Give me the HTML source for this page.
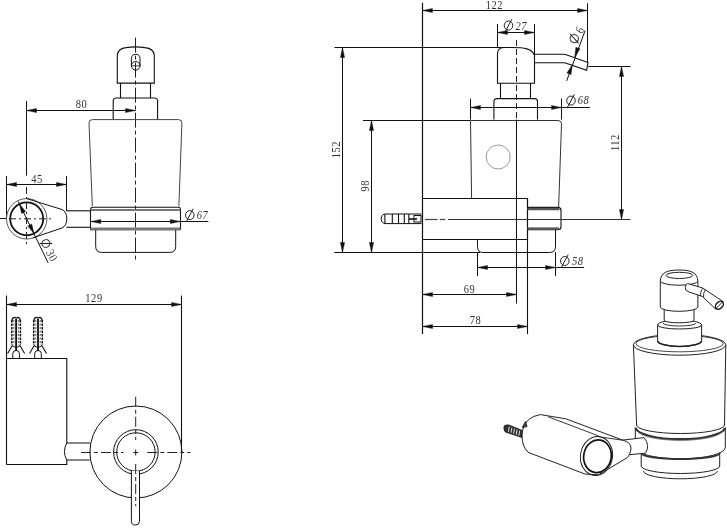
<!DOCTYPE html>
<html><head><meta charset="utf-8"><style>
html,body{margin:0;padding:0;background:#fff;}
body{width:727px;height:528px;overflow:hidden;}
svg{display:block;font-family:"Liberation Serif",serif;will-change:transform;}
</style></head><body>
<svg width="727" height="528" viewBox="0 0 727 528">
<rect width="727" height="528" fill="#fff"/>
<line x1="135.5" y1="37.6" x2="135.5" y2="262.5" stroke="#222" stroke-width="1" stroke-dasharray="15 3 4 3"/>
<path d="M117.3,83.1 V55 Q118,48.5 126,47.6 Q135.4,46.2 145,47.6 Q153.6,48.5 154.3,55 V83.1 Z" stroke="#111" stroke-width="1.1" fill="none" />
<path d="M131.4,65.8 V58.6 Q131.4,54.3 135.7,54.3 Q140,54.3 140,58.6 V65.8" stroke="#111" stroke-width="1" fill="none" />
<circle cx="135.7" cy="65.8" r="4.3" stroke="#111" stroke-width="1" fill="none" />
<line x1="131.4" y1="65.8" x2="140" y2="65.8" stroke="#111" stroke-width="0.8" />
<path d="M120.5,83.1 V98 M150.5,83.1 V98" stroke="#111" stroke-width="1.1" fill="none" />
<path d="M113.2,119.6 V101 Q113.2,98 116.5,98 H154.3 Q157.6,98 157.6,101 V119.6" stroke="#111" stroke-width="1.1" fill="none" />
<path d="M92.3,206 L89,123 Q89,119.6 92.5,119.6 H178.5 Q181.9,119.6 181.9,123 L178.9,206" stroke="#444" stroke-width="1" fill="none" />
<path d="M90.5,230 V210 Q90.5,207.3 93,207.3 H178.5 Q180.5,207.3 180.5,210 V230" stroke="#111" stroke-width="1.1" fill="none" />
<line x1="90.5" y1="210" x2="180.5" y2="210" stroke="#777" stroke-width="2" />
<line x1="90.5" y1="229" x2="180.5" y2="229" stroke="#777" stroke-width="3" />
<path d="M95.7,230 V246.5 Q95.7,252.4 101.6,252.4 H169.8 Q175.7,252.4 175.7,246.5 V230" stroke="#111" stroke-width="1" fill="none" />
<line x1="26.5" y1="101" x2="26.5" y2="175.5" stroke="#111" stroke-width="1" />
<line x1="26.5" y1="110.5" x2="135.5" y2="110.5" stroke="#111" stroke-width="1" />
<polygon points="26.50,110.50 36.50,108.40 36.50,112.60" fill="#111" stroke="#111" stroke-width="0.4" stroke-linejoin="round"/>
<polygon points="135.50,110.50 125.50,112.60 125.50,108.40" fill="#111" stroke="#111" stroke-width="0.4" stroke-linejoin="round"/>
<text transform="translate(81.5,103.4) rotate(0) scale(0.86,1)" x="0" y="4.12" text-anchor="middle" font-size="12.2" fill="#333" letter-spacing="0.6">80</text>
<path d="M6.5,176 V218.5 H0" stroke="#111" stroke-width="1" fill="none" />
<line x1="66.5" y1="176" x2="66.5" y2="211" stroke="#111" stroke-width="1" />
<line x1="6.5" y1="184.5" x2="66.5" y2="184.5" stroke="#111" stroke-width="1" />
<polygon points="6.50,184.50 16.50,182.40 16.50,186.60" fill="#111" stroke="#111" stroke-width="0.4" stroke-linejoin="round"/>
<polygon points="66.50,184.50 56.50,186.60 56.50,182.40" fill="#111" stroke="#111" stroke-width="0.4" stroke-linejoin="round"/>
<text transform="translate(37,178.5) rotate(0) scale(0.86,1)" x="0" y="4.12" text-anchor="middle" font-size="12.2" fill="#333" letter-spacing="0.6">45</text>
<line x1="90.5" y1="221.5" x2="208.3" y2="221.5" stroke="#111" stroke-width="1" />
<polygon points="90.80,221.50 100.80,219.40 100.80,223.60" fill="#111" stroke="#111" stroke-width="0.4" stroke-linejoin="round"/>
<polygon points="180.30,221.50 170.30,223.60 170.30,219.40" fill="#111" stroke="#111" stroke-width="0.4" stroke-linejoin="round"/>
<g transform="translate(189.8,215.1) rotate(0)"><ellipse cx="0" cy="0" rx="4.2749999999999995" ry="4.5" stroke="#222" stroke-width="1" fill="none"/><line x1="-3.38" y1="6.36" x2="3.38" y2="-6.36" stroke="#222" stroke-width="1"/></g>
<text transform="translate(202.5,215.3) rotate(0) scale(0.86,1)" x="0" y="4.12" text-anchor="middle" font-size="12.2" fill="#333" letter-spacing="0.6" font-style="italic">67</text>
<circle cx="26.7" cy="218.8" r="20.2" stroke="#555" stroke-width="1" fill="none" />
<circle cx="26.7" cy="218.8" r="16.5" stroke="#111" stroke-width="1.8" fill="none" />
<path d="M26.7,198.6 L62,209.5 Q67,212 66.8,219 Q66.5,226 62,228 L33,237.8" stroke="#111" stroke-width="1" fill="none" />
<line x1="66.5" y1="210.8" x2="90.5" y2="210.8" stroke="#111" stroke-width="1.1" />
<line x1="66.5" y1="227.3" x2="90.5" y2="227.3" stroke="#111" stroke-width="1.1" />
<line x1="9" y1="218.8" x2="54" y2="218.8" stroke="#222" stroke-width="1" stroke-dasharray="7 3 2 3"/>
<line x1="26.5" y1="187" x2="26.5" y2="245.3" stroke="#222" stroke-width="1" stroke-dasharray="7 3 2 3"/>
<line x1="18.2" y1="201.4" x2="48.2" y2="263" stroke="#111" stroke-width="1" />
<polygon points="19.40,204.00 25.63,211.52 21.59,213.51" fill="#111" stroke="#111" stroke-width="0.4" stroke-linejoin="round"/>
<polygon points="34.00,233.60 27.77,226.08 31.81,224.09" fill="#111" stroke="#111" stroke-width="0.4" stroke-linejoin="round"/>
<g transform="translate(45.9,243.5) rotate(62)"><ellipse cx="0" cy="0" rx="3.8" ry="4" stroke="#222" stroke-width="1" fill="none"/><line x1="-2.96" y1="5.56" x2="2.96" y2="-5.56" stroke="#222" stroke-width="1"/></g>
<text transform="translate(51.8,255.5) rotate(63) scale(0.86,1)" x="0" y="4.12" text-anchor="middle" font-size="12.2" fill="#333" letter-spacing="0.6">30</text>
<line x1="6.5" y1="295.5" x2="6.5" y2="464.5" stroke="#111" stroke-width="1.1" />
<line x1="181.5" y1="295.5" x2="181.5" y2="452" stroke="#111" stroke-width="1.1" />
<line x1="6.5" y1="304.5" x2="181.5" y2="304.5" stroke="#111" stroke-width="1" />
<polygon points="6.50,304.50 16.50,302.40 16.50,306.60" fill="#111" stroke="#111" stroke-width="0.4" stroke-linejoin="round"/>
<polygon points="181.50,304.50 171.50,306.60 171.50,302.40" fill="#111" stroke="#111" stroke-width="0.4" stroke-linejoin="round"/>
<text transform="translate(94,297.6) rotate(0) scale(0.86,1)" x="0" y="4.12" text-anchor="middle" font-size="12.2" fill="#333" letter-spacing="0.6">129</text>
<path d="M6.5,358.5 H66.8 V443 M66.8,460 V464.5 H6.5" stroke="#111" stroke-width="1.1" fill="none" />
<path d="M66.8,443 H90 M66.8,460 H89.7 M66.8,443 Q62,451.5 66.8,460" stroke="#111" stroke-width="1" fill="none" />
<circle cx="135.9" cy="452" r="46" stroke="#111" stroke-width="1" fill="none" />
<circle cx="135.9" cy="452" r="22.3" stroke="#111" stroke-width="1" fill="none" />
<circle cx="135.9" cy="452" r="19.2" stroke="#111" stroke-width="1" fill="none" />
<path d="M131.4,471 V521.5 Q131.4,525 135.5,525 Q139.5,525 139.5,521.5 V471" stroke="#111" stroke-width="1" fill="#fff" />
<line x1="81" y1="452.5" x2="123.5" y2="452.5" stroke="#222" stroke-width="1" stroke-dasharray="10 3 4 3"/>
<line x1="133.3" y1="452.5" x2="138.3" y2="452.5" stroke="#222" stroke-width="1" />
<line x1="147.3" y1="452.5" x2="190.5" y2="452.5" stroke="#222" stroke-width="1" stroke-dasharray="10 3 4 3"/>
<line x1="135.7" y1="396.8" x2="135.7" y2="440" stroke="#222" stroke-width="1" stroke-dasharray="10 3 4 3"/>
<line x1="135.7" y1="449.5" x2="135.7" y2="455.5" stroke="#222" stroke-width="1" />
<line x1="135.7" y1="464" x2="135.7" y2="506" stroke="#222" stroke-width="1" stroke-dasharray="10 3 4 3"/>
<path d="M11.8,322 Q11.8,317.3 14.900000000000002,317.3 Q16.1,319 17.3,317.3 Q20.400000000000002,317.3 20.400000000000002,322" stroke="#111" stroke-width="1.3" fill="none" />
<path d="M11.8,320 V345 M20.400000000000002,320 V345" stroke="#111" stroke-width="1.5" fill="none" stroke-dasharray="2.4 1.1"/>
<path d="M13.900000000000002,320 V345 M18.3,320 V345" stroke="#444" stroke-width="0.9" fill="none" stroke-dasharray="2 1.5"/>
<line x1="16.1" y1="319" x2="16.1" y2="351" stroke="#111" stroke-width="1.8" />
<path d="M12.600000000000001,345 L7.600000000000001,353.5 M19.6,345 L24.6,353.5" stroke="#111" stroke-width="1.1" fill="none" />
<path d="M12.8,358.4 V353.5 Q12.8,350.5 16.1,350.5 Q19.400000000000002,350.5 19.400000000000002,353.5 V358.4" stroke="#111" stroke-width="1" fill="none" />
<path d="M12.100000000000001,345.5 Q16.1,349 20.1,345.5" stroke="#111" stroke-width="1" fill="none" />
<path d="M33.7,322 Q33.7,317.3 36.8,317.3 Q38,319 39.2,317.3 Q42.3,317.3 42.3,322" stroke="#111" stroke-width="1.3" fill="none" />
<path d="M33.7,320 V345 M42.3,320 V345" stroke="#111" stroke-width="1.5" fill="none" stroke-dasharray="2.4 1.1"/>
<path d="M35.8,320 V345 M40.2,320 V345" stroke="#444" stroke-width="0.9" fill="none" stroke-dasharray="2 1.5"/>
<line x1="38" y1="319" x2="38" y2="351" stroke="#111" stroke-width="1.8" />
<path d="M34.5,345 L29.5,353.5 M41.5,345 L46.5,353.5" stroke="#111" stroke-width="1.1" fill="none" />
<path d="M34.7,358.4 V353.5 Q34.7,350.5 38,350.5 Q41.3,350.5 41.3,353.5 V358.4" stroke="#111" stroke-width="1" fill="none" />
<path d="M34,345.5 Q38,349 42,345.5" stroke="#111" stroke-width="1" fill="none" />
<line x1="422.5" y1="2.7" x2="422.5" y2="334" stroke="#111" stroke-width="1.2" />
<line x1="422.5" y1="10.5" x2="587.5" y2="10.5" stroke="#111" stroke-width="1" />
<polygon points="422.50,10.50 432.50,8.40 432.50,12.60" fill="#111" stroke="#111" stroke-width="0.4" stroke-linejoin="round"/>
<polygon points="587.50,10.50 577.50,12.60 577.50,8.40" fill="#111" stroke="#111" stroke-width="0.4" stroke-linejoin="round"/>
<text transform="translate(494.3,4.6) rotate(0) scale(0.86,1)" x="0" y="4.12" text-anchor="middle" font-size="12.2" fill="#333" letter-spacing="0.6">122</text>
<line x1="587.5" y1="3.4" x2="587.5" y2="62.4" stroke="#111" stroke-width="1" />
<line x1="334.5" y1="47.5" x2="510" y2="47.5" stroke="#111" stroke-width="1.1" />
<line x1="342.5" y1="47.5" x2="342.5" y2="252.5" stroke="#111" stroke-width="1" />
<polygon points="342.50,47.50 344.60,57.50 340.40,57.50" fill="#111" stroke="#111" stroke-width="0.4" stroke-linejoin="round"/>
<polygon points="342.50,252.50 340.40,242.50 344.60,242.50" fill="#111" stroke="#111" stroke-width="0.4" stroke-linejoin="round"/>
<text transform="translate(336.3,149.6) rotate(-90) scale(0.86,1)" x="0" y="4.12" text-anchor="middle" font-size="12.2" fill="#333" letter-spacing="0.6">152</text>
<line x1="363" y1="120.5" x2="470" y2="120.5" stroke="#111" stroke-width="1.1" />
<line x1="371.5" y1="120.5" x2="371.5" y2="252.5" stroke="#111" stroke-width="1" />
<polygon points="371.50,120.50 373.60,130.50 369.40,130.50" fill="#111" stroke="#111" stroke-width="0.4" stroke-linejoin="round"/>
<polygon points="371.50,252.50 369.40,242.50 373.60,242.50" fill="#111" stroke="#111" stroke-width="0.4" stroke-linejoin="round"/>
<text transform="translate(365,185.7) rotate(-90) scale(0.86,1)" x="0" y="4.12" text-anchor="middle" font-size="12.2" fill="#333" letter-spacing="0.6">98</text>
<line x1="334.3" y1="252.5" x2="480" y2="252.5" stroke="#111" stroke-width="1.1" />
<path d="M497.5,83.3 V54 Q497.5,47.5 504.5,47.5 H512 C524,47.5 532.5,48.5 534.5,55.5 V83.3 Z" stroke="#111" stroke-width="1.1" fill="none" />
<line x1="497.5" y1="24" x2="497.5" y2="47.5" stroke="#111" stroke-width="1" />
<line x1="534.5" y1="24" x2="534.5" y2="55.5" stroke="#111" stroke-width="1" />
<line x1="497.5" y1="32.5" x2="534.5" y2="32.5" stroke="#111" stroke-width="1" />
<polygon points="497.50,32.50 507.50,30.40 507.50,34.60" fill="#111" stroke="#111" stroke-width="0.4" stroke-linejoin="round"/>
<polygon points="534.50,32.50 524.50,34.60 524.50,30.40" fill="#111" stroke="#111" stroke-width="0.4" stroke-linejoin="round"/>
<g transform="translate(508.5,25.5) rotate(0)"><ellipse cx="0" cy="0" rx="4.2749999999999995" ry="4.5" stroke="#222" stroke-width="1" fill="none"/><line x1="-3.38" y1="6.36" x2="3.38" y2="-6.36" stroke="#222" stroke-width="1"/></g>
<text transform="translate(521.2,26.2) rotate(0) scale(0.86,1)" x="0" y="4.12" text-anchor="middle" font-size="12.2" fill="#333" letter-spacing="0.6" font-style="italic">27</text>
<path d="M534.5,54.3 H563 Q565,54.3 567,55 L588,62.5 L586.6,70.3 L567,63.6 Q565,62.7 563.6,62.7 H534.5" stroke="#111" stroke-width="1.1" fill="none" />
<line x1="566.7" y1="80.9" x2="585.1" y2="30.5" stroke="#111" stroke-width="1" />
<polygon points="574.70,57.00 575.85,47.30 580.07,48.85" fill="#111" stroke="#111" stroke-width="0.4" stroke-linejoin="round"/>
<polygon points="572.20,64.90 571.05,74.60 566.83,73.05" fill="#111" stroke="#111" stroke-width="0.4" stroke-linejoin="round"/>
<g transform="translate(574.3,38.6) rotate(-70)"><ellipse cx="0" cy="0" rx="3.9899999999999998" ry="4.2" stroke="#222" stroke-width="1" fill="none"/><line x1="-3.05" y1="5.74" x2="3.05" y2="-5.74" stroke="#222" stroke-width="1"/></g>
<text transform="translate(579.6,29.8) rotate(-70) scale(0.86,1)" x="0" y="4.12" text-anchor="middle" font-size="12.2" fill="#333" letter-spacing="0.6" font-style="italic">6</text>
<line x1="588.2" y1="66.5" x2="630.5" y2="66.5" stroke="#111" stroke-width="1" />
<line x1="621.5" y1="66.5" x2="621.5" y2="219.5" stroke="#111" stroke-width="1" />
<polygon points="621.50,66.50 623.60,76.50 619.40,76.50" fill="#111" stroke="#111" stroke-width="0.4" stroke-linejoin="round"/>
<polygon points="621.50,219.50 619.40,209.50 623.60,209.50" fill="#111" stroke="#111" stroke-width="0.4" stroke-linejoin="round"/>
<text transform="translate(615.3,142.6) rotate(-90) scale(0.86,1)" x="0" y="4.12" text-anchor="middle" font-size="12.2" fill="#333" letter-spacing="0.6">112</text>
<path d="M500.5,83 V98.6 M530.5,83 V98.6" stroke="#111" stroke-width="1.1" fill="none" />
<path d="M493.9,119.5 V101.6 Q493.9,98.6 497,98.6 H534.5 Q537.5,98.6 537.5,101.6 V119.5" stroke="#111" stroke-width="1.1" fill="none" />
<line x1="470.5" y1="98.6" x2="470.5" y2="119.5" stroke="#111" stroke-width="1" />
<line x1="561.5" y1="98.6" x2="561.5" y2="119.5" stroke="#111" stroke-width="1" />
<line x1="470.5" y1="107.5" x2="589.9" y2="107.5" stroke="#111" stroke-width="1" />
<polygon points="470.50,107.50 480.50,105.40 480.50,109.60" fill="#111" stroke="#111" stroke-width="0.4" stroke-linejoin="round"/>
<polygon points="561.50,107.50 551.50,109.60 551.50,105.40" fill="#111" stroke="#111" stroke-width="0.4" stroke-linejoin="round"/>
<g transform="translate(571,100.6) rotate(0)"><ellipse cx="0" cy="0" rx="4.2749999999999995" ry="4.5" stroke="#222" stroke-width="1" fill="none"/><line x1="-3.38" y1="6.36" x2="3.38" y2="-6.36" stroke="#222" stroke-width="1"/></g>
<text transform="translate(583.5,100.3) rotate(0) scale(0.86,1)" x="0" y="4.12" text-anchor="middle" font-size="12.2" fill="#333" letter-spacing="0.6" font-style="italic">68</text>
<path d="M471.6,198.5 L470.5,120.5 H558 Q561.5,120.5 561.5,124 L558.6,208" stroke="#333" stroke-width="1" fill="none" />
<circle cx="498.2" cy="157" r="12" stroke="#999" stroke-width="1" fill="none" />
<line x1="516.5" y1="40" x2="516.5" y2="119.5" stroke="#222" stroke-width="1" stroke-dasharray="6 3"/>
<line x1="516.5" y1="119.5" x2="516.5" y2="303.5" stroke="#111" stroke-width="1" />
<path d="M422.5,198.5 H527.5 V239.5 H422.5" stroke="#111" stroke-width="1.2" fill="none" />
<path d="M527.5,207.4 H558 Q561,207.4 561,210.4 V226.7 Q561,229.7 558,229.7 H527.5" stroke="#111" stroke-width="1.1" fill="none" />
<line x1="527.5" y1="209" x2="559.5" y2="209" stroke="#555" stroke-width="2.4" />
<line x1="527.5" y1="228.7" x2="559" y2="228.7" stroke="#555" stroke-width="2.6" />
<path d="M477.5,239.5 V246.5 Q477.5,252.5 483,252.5 H549.5 Q555.5,252.5 555.5,246.5 V229.7" stroke="#111" stroke-width="1" fill="none" />
<line x1="425" y1="219.5" x2="437.6" y2="219.5" stroke="#444" stroke-width="1.2" />
<line x1="439.8" y1="219.5" x2="445.3" y2="219.5" stroke="#444" stroke-width="1.2" />
<line x1="448" y1="219.5" x2="630.5" y2="219.5" stroke="#333" stroke-width="1.1" />
<path d="M421.5,214 H386 Q381.2,214 381.2,218.8 Q381.2,223.6 386,223.6 H421.5" stroke="#111" stroke-width="1" fill="none" />
<line x1="384.9" y1="214" x2="384.9" y2="223.6" stroke="#111" stroke-width="1.1" />
<line x1="392.3" y1="214" x2="392.3" y2="223.6" stroke="#111" stroke-width="1.1" />
<line x1="398.5" y1="214" x2="398.5" y2="223.6" stroke="#111" stroke-width="1.1" />
<line x1="404.3" y1="214" x2="404.3" y2="223.6" stroke="#111" stroke-width="1.1" />
<line x1="408.8" y1="214" x2="408.8" y2="223.6" stroke="#111" stroke-width="1.1" />
<rect x="414" y="215.5" width="7" height="6.5" stroke="#111" stroke-width="1" fill="none"/>
<line x1="409" y1="219" x2="417" y2="219" stroke="#111" stroke-width="1.6" />
<line x1="477.5" y1="252" x2="477.5" y2="276" stroke="#111" stroke-width="1" />
<line x1="555.5" y1="252" x2="555.5" y2="276" stroke="#111" stroke-width="1" />
<line x1="477.5" y1="267.5" x2="584.1" y2="267.5" stroke="#111" stroke-width="1" />
<polygon points="477.50,267.50 487.50,265.40 487.50,269.60" fill="#111" stroke="#111" stroke-width="0.4" stroke-linejoin="round"/>
<polygon points="555.50,267.50 545.50,269.60 545.50,265.40" fill="#111" stroke="#111" stroke-width="0.4" stroke-linejoin="round"/>
<g transform="translate(564.8,261) rotate(0)"><ellipse cx="0" cy="0" rx="4.2749999999999995" ry="4.5" stroke="#222" stroke-width="1" fill="none"/><line x1="-3.38" y1="6.36" x2="3.38" y2="-6.36" stroke="#222" stroke-width="1"/></g>
<text transform="translate(577.8,261) rotate(0) scale(0.86,1)" x="0" y="4.12" text-anchor="middle" font-size="12.2" fill="#333" letter-spacing="0.6" font-style="italic">58</text>
<line x1="527.5" y1="239.5" x2="527.5" y2="334" stroke="#111" stroke-width="1.1" />
<line x1="422.5" y1="294.5" x2="516.5" y2="294.5" stroke="#111" stroke-width="1" />
<polygon points="422.50,294.50 432.50,292.40 432.50,296.60" fill="#111" stroke="#111" stroke-width="0.4" stroke-linejoin="round"/>
<polygon points="516.50,294.50 506.50,296.60 506.50,292.40" fill="#111" stroke="#111" stroke-width="0.4" stroke-linejoin="round"/>
<text transform="translate(469.5,288.8) rotate(0) scale(0.86,1)" x="0" y="4.12" text-anchor="middle" font-size="12.2" fill="#333" letter-spacing="0.6">69</text>
<line x1="422.5" y1="326.5" x2="527.5" y2="326.5" stroke="#111" stroke-width="1" />
<polygon points="422.50,326.50 432.50,324.40 432.50,328.60" fill="#111" stroke="#111" stroke-width="0.4" stroke-linejoin="round"/>
<polygon points="527.50,326.50 517.50,328.60 517.50,324.40" fill="#111" stroke="#111" stroke-width="0.4" stroke-linejoin="round"/>
<text transform="translate(475.5,319.7) rotate(0) scale(0.86,1)" x="0" y="4.12" text-anchor="middle" font-size="12.2" fill="#333" letter-spacing="0.6">78</text>
<path d="M641.2,452 V466 A39.25,7.5 0 0 0 719.7,466 V452 Z" stroke="#222" stroke-width="1" fill="#fff" />
<path d="M643.5,471 A36.9,7.8 0 0 0 717.4,471" stroke="#222" stroke-width="1" fill="none" />
<path d="M635.3,427.6 L635.3,447.3 A45,11.6 0 0 0 725.3,447.3 L725.3,427.6 A45,12.4 0 0 1 635.3,427.6 Z" stroke="#222" stroke-width="1" fill="#fff" />
<path d="M635.6,428 A44.85,12.2 0 0 0 725,428" stroke="#333" stroke-width="2.2" fill="none" />
<path d="M638,431.5 A42.5,10 0 0 0 722.5,431.5" stroke="#888" stroke-width="0.8" fill="none" />
<path d="M641.2,453 A39.25,6 0 0 0 719.7,453" stroke="#333" stroke-width="1.9" fill="none" />
<path d="M633.4,344.8 A46.2,10.4 0 0 1 725.8,344.8 L724.5,425 A43.95,8.5 0 0 1 636.6,425 Z" stroke="#222" stroke-width="1" fill="#fff" />
<ellipse cx="679.6" cy="343.6" rx="43.6" ry="8.2" transform="rotate(0 679.6 343.6)" stroke="#333" stroke-width="0.9" fill="none"/>
<path d="M633.4,344.8 A46.2,10.4 0 0 0 725.8,344.8" stroke="#222" stroke-width="1" fill="none" />
<path d="M657.6,325 A22,5 0 0 1 701.6,325 V340.7 A22,5.8 0 0 1 657.6,340.7 Z" stroke="#222" stroke-width="1" fill="#fff" />
<path d="M657.6,340.7 A22,5.8 0 0 0 701.6,340.7" stroke="#222" stroke-width="1.6" fill="none" />
<path d="M657.6,325 A22,4 0 0 0 701.6,325" stroke="#222" stroke-width="1" fill="none" />
<path d="M663,323 A16.5,3 0 0 0 696,323" stroke="#222" stroke-width="0.9" fill="none" />
<path d="M664.2,306 V320.3 A14.9,2.5 0 0 0 694,320.3 V306 Z" stroke="#222" stroke-width="1" fill="#fff" />
<path d="M660.3,307 V282 C660.3,272.5 667,270 679,270 C691,270 697.9,272.5 697.9,282 V307 A18.8,4.3 0 0 1 660.3,307 Z" stroke="#222" stroke-width="1" fill="#fff" />
<path d="M660.3,281 A18.8,4.2 0 0 0 697.9,281" stroke="#222" stroke-width="1" fill="none" />
<ellipse cx="679.4" cy="275.4" rx="13.4" ry="3.1" transform="rotate(0 679.4 275.4)" stroke="#222" stroke-width="1" fill="none"/>
<path d="M687.6,283.5 L702.6,288 L723,301.5 L715.5,309 L702.5,296.5 L689.1,292 Q684.5,290.5 685.3,287.3 Q686,283.8 687.6,283.5 Z" stroke="#222" stroke-width="1" fill="#fff" />
<path d="M702.6,288.3 Q700,292 700.5,296 M705.5,289.5 Q703,293 703.5,297" stroke="#222" stroke-width="0.9" fill="none" />
<ellipse cx="719.4" cy="305.3" rx="4.6" ry="3.2" transform="rotate(-45 719.4 305.3)" stroke="#111" stroke-width="1.4" fill="none"/>
<path d="M615,441 L644,437.6 Q650.5,445.4 645.5,453.2 L615,456 Z" stroke="#222" stroke-width="1" fill="#fff" />
<path d="M523,429 Q526,417 540.3,414.6 L565.8,418.8 L623.2,440.3 Q631.5,442.5 631,449 Q630,455 627.5,457.5 L598.5,474.8 L584.9,474 L528,452.3 Q522,446 522,436 Q522,432 523,429 Z" stroke="#222" stroke-width="1" fill="#fff" />
<path d="M547.9,416.7 L598.8,436" stroke="#222" stroke-width="0.9" fill="none" />
<path d="M599,436.8 L623.2,440.3" stroke="#222" stroke-width="0.9" fill="none" />
<ellipse cx="596.5" cy="456" rx="16" ry="19.5" transform="rotate(10 596.5 456)" stroke="#222" stroke-width="1" fill="none"/>
<ellipse cx="597.5" cy="456.3" rx="13.8" ry="16.4" transform="rotate(10 597.5 456.3)" stroke="#111" stroke-width="1.7" fill="none"/>
<path d="M522,430.5 L508.5,425.2 Q503.5,424.5 504.2,429 Q504.8,431.5 506.5,432.2 L521.5,437.2 Z" stroke="#222" stroke-width="1.2" fill="#333" />
<line x1="509.3" y1="426.6" x2="508.4" y2="431.8" stroke="#ddd" stroke-width="1.0" />
<line x1="511.9" y1="427.6" x2="511.0" y2="432.8" stroke="#ddd" stroke-width="1.0" />
<line x1="514.5" y1="428.6" x2="513.6" y2="433.8" stroke="#ddd" stroke-width="1.0" />
<line x1="517.1" y1="429.6" x2="516.2" y2="434.8" stroke="#ddd" stroke-width="1.0" />
<line x1="519.7" y1="430.6" x2="518.8" y2="435.8" stroke="#ddd" stroke-width="1.0" />
<path d="M522.3,427.5 L525.5,421.5 L527,426.5 Z" stroke="#222" stroke-width="1" fill="#444" />
</svg>
</body></html>
